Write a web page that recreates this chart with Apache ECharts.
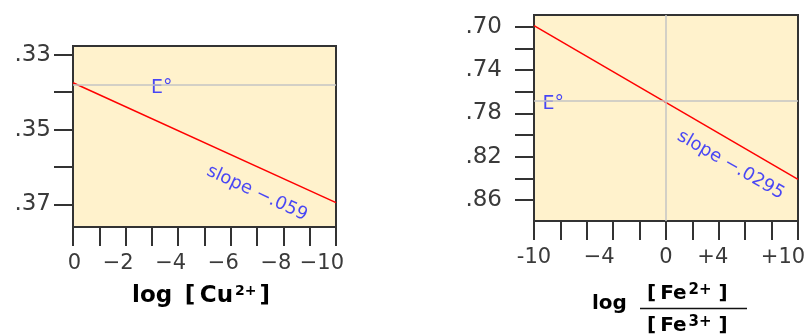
<!DOCTYPE html>
<html>
<head>
<meta charset="utf-8">
<script src="https://cdn.jsdelivr.net/npm/echarts@6/dist/echarts.min.js"></script>
<style>
  html, body { margin: 0; padding: 0; background: #fff; }
  #chart { width: 809px; height: 336px; }
</style>
</head>
<body>
<div id="chart"></div>
<script>
// left panel: Cu2+/Cu
const cuX = [0, -10];
const cuY = [0.3375, 0.3695];
const cuE0 = 0.338;
const cuTickValues = [0, -2, -4, -6, -8, -10];
const cuTickLabels = ['0', '−2', '−4', '−6', '−8', '−10'];
const cuYTicks = [0.33, 0.34, 0.35, 0.36, 0.37];
const cuYLabels = [0.33, 0.35, 0.37];

// right panel: Fe3+/Fe2+
const feX = [-10, 10];
const feY = [0.699, 0.841];
const feE0 = 0.7686;
const feTickValues = [-10, -4, 0, 4, 10];
const feTickLabels = ['-10', '−4', '0', '+4', '+10'];
const feYTicks = [0.70, 0.72, 0.74, 0.76, 0.78, 0.80, 0.82, 0.84, 0.86];
const feYLabels = [0.70, 0.74, 0.78, 0.82, 0.86];

// annotations [x, y, text, rotation]
const cuNotes = [[-3.3, 0.338, 'E°', 0], [-7, 0.367, 'slope −.059', -25]];
const feNotes = [[-8.7, 0.7686, 'E°', 0], [4.9, 0.8277, 'slope −.0295', -30]];

const FONT = 'DejaVu Sans';
const dark = '#333';
const plotBg = '#fff2cc';

const chart = echarts.init(document.getElementById('chart'));

function yAxisFor(idx, min, max, ticks, labels, margin) {
  return {
    type: 'value', gridIndex: idx, inverse: true, min: min, max: max,
    splitLine: { show: false },
    axisLine: { show: true, onZero: false, lineStyle: { color: dark, width: 2 } },
    axisTick: { show: true, length: 19, lineStyle: { color: dark, width: 2 }, customValues: ticks },
    axisLabel: {
      customValues: labels, margin: margin, color: '#3a3a3a', fontFamily: FONT, fontSize: 23,
      formatter: v => v.toFixed(2).slice(1)
    }
  };
}

function xAxisFor(idx, min, max, tickStep, labelVals, labelTexts, labelExtra, extra) {
  const ticks = [];
  for (let v = min; v <= max + 1e-9; v += tickStep) ticks.push(v);
  return Object.assign({
    type: 'value', gridIndex: idx, min: min, max: max,
    splitLine: { show: false },
    axisLine: { show: true, onZero: false, lineStyle: { color: dark, width: 2 } },
    axisTick: { show: true, length: 19, lineStyle: { color: dark, width: 2 }, customValues: ticks },
    axisLabel: Object.assign({
      customValues: labelVals, margin: 26, color: '#3a3a3a', fontFamily: FONT, fontSize: 21,
      formatter: v => labelTexts[labelVals.indexOf(v)]
    }, labelExtra || {})
  }, extra || {});
}

function noteSeries(idx, notes) {
  return {
    type: 'scatter', xAxisIndex: idx, yAxisIndex: idx, symbolSize: 0, silent: true,
    data: notes.map(n => ({
      value: [n[0], n[1]],
      label: {
        show: true, position: 'inside', formatter: n[2], rotate: n[3],
        offset: n[3] ? [0, 0] : [2, 3],
        color: '#1a1aff', fontFamily: FONT, fontSize: n[3] ? 18 : 19
      }
    }))
  };
}

// the right panel's labels sit a little left of their ticks
const feShift = { '−4': 28, '+4': 12, '+10': 30 };
const feLabelStyle = {
  formatter: v => {
    const t = feTickLabels[feTickValues.indexOf(v)];
    return feShift[t] ? '{p' + feShift[t] + '|' + t + '}' : t;
  },
  rich: {
    p28: { fontFamily: FONT, fontSize: 21, color: '#3a3a3a', padding: [0, 28, 0, 0] },
    p12: { fontFamily: FONT, fontSize: 21, color: '#3a3a3a', padding: [0, 12, 0, 0] },
    p30: { fontFamily: FONT, fontSize: 21, color: '#3a3a3a', padding: [0, 30, 0, 0] }
  }
};

const refLine = { color: '#c4c4c4', width: 1.5, type: 'solid' };
function nameRich(big, small) {
  return {
    b: { fontFamily: FONT, fontWeight: 'bold', fontSize: big, color: '#111', verticalAlign: 'bottom', lineHeight: big + 4 },
    s: { fontFamily: FONT, fontWeight: 'bold', fontSize: small, color: '#111', verticalAlign: 'top', lineHeight: big + 4, padding: [3, 3, 0, 2] }
  };
}
const richL = nameRich(23, 14);
const richR = nameRich(20, 15);

const option = {
  animation: false,
  backgroundColor: '#fff',
  grid: [
    { left: 73, top: 46, width: 263, height: 181, outerBoundsMode: 'none', show: true, backgroundColor: plotBg, borderColor: dark, borderWidth: 2 },
    { left: 534, top: 15, width: 264, height: 206, outerBoundsMode: 'none', show: true, backgroundColor: plotBg, borderColor: dark, borderWidth: 2 }
  ],
  xAxis: [
    xAxisFor(0, -10, 0, 1, cuTickValues, cuTickLabels, { align: 'right', padding: [0, -8, 0, 0] }, { inverse: true }),
    xAxisFor(1, -10, 10, 2, feTickValues, feTickLabels, feLabelStyle)
  ],
  yAxis: [
    yAxisFor(0, 0.3277, 0.376, cuYTicks, cuYLabels, 22),
    yAxisFor(1, 0.6892, 0.8794, feYTicks, feYLabels, 32)
  ],
  series: [
    {
      type: 'line', xAxisIndex: 0, yAxisIndex: 0, symbol: 'none', silent: true,
      data: cuX.map((x, i) => [x, cuY[i]]),
      lineStyle: { color: '#ff0000', width: 1.5 },
      markLine: { silent: true, precision: 4, symbol: ['none', 'none'], label: { show: false }, lineStyle: refLine, data: [{ yAxis: cuE0 }] }
    },
    {
      type: 'line', xAxisIndex: 1, yAxisIndex: 1, symbol: 'none', silent: true,
      data: feX.map((x, i) => [x, feY[i]]),
      lineStyle: { color: '#ff0000', width: 1.5 },
      markLine: { silent: true, precision: 4, symbol: ['none', 'none'], label: { show: false }, lineStyle: refLine, data: [{ yAxis: feE0 }, { xAxis: 0 }] }
    },
    noteSeries(0, cuNotes),
    noteSeries(1, feNotes)
  ],
  graphic: [
    { type: 'text', left: 132, top: 281, style: { text: '{b|log\u2009 [\u2009Cu}{s|2+}{b|]}', rich: richL } },
    { type: 'text', left: 592, top: 294, style: { text: '{b|log}', rich: richR } },
    { type: 'text', left: 647, top: 280, style: { text: '{b|[\u2009Fe}{s|2+}{b|\u2009]}', rich: richR } },
    { type: 'line', shape: { x1: 640, y1: 308.5, x2: 747, y2: 308.5 }, style: { stroke: '#111', lineWidth: 1.5 } },
    { type: 'text', left: 647, top: 312, style: { text: '{b|[\u2009Fe}{s|3+}{b|\u2009]}', rich: richR } }
  ]
};

chart.setOption(option);
</script>
</body>
</html>
